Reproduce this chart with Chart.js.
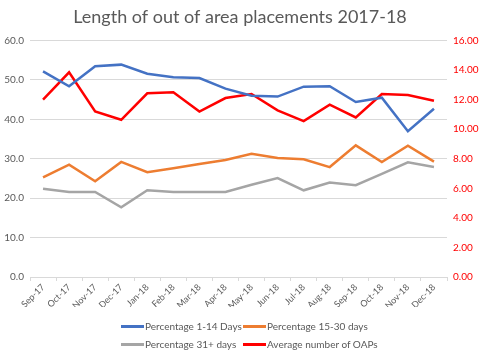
<!DOCTYPE html>
<html>
<head>
<meta charset="utf-8">
<script src="https://cdn.jsdelivr.net/npm/chart.js@4/dist/chart.umd.min.js"></script>
<style>
  html, body { margin: 0; padding: 0; background: #fff; }
  #wrap { position: relative; width: 480px; height: 355px; }
  #c { position: absolute; left: 0; top: 0; }
  .leg { position: absolute; font-family: Lato, "Liberation Sans", sans-serif; font-size: 10px; color: #595959; white-space: nowrap; line-height: 12px; }
  .leg span.ln { display: inline-block; width: 23px; height: 3px; vertical-align: middle; margin-right: 1px; position: relative; top: -1px; }
</style>
</head>
<body>
<div id="wrap">
  <canvas id="c" width="480" height="355"></canvas>
  <div id="legend"></div>
</div>
<script>
const categories = ["Sep-17","Oct-17","Nov-17","Dec-17","Jan-18","Feb-18","Mar-18","Apr-18","May-18","Jun-18","Jul-18","Aug-18","Sep-18","Oct-18","Nov-18","Dec-18"];
const pct1to14  = [52.2, 48.4, 53.5, 53.9, 51.6, 50.7, 50.5, 47.8, 46.0, 45.8, 48.3, 48.4, 44.4, 45.5, 37.0, 42.7];
const pct15to30 = [25.3, 28.5, 24.3, 29.2, 26.6, 27.6, 28.7, 29.7, 31.3, 30.2, 29.9, 27.9, 33.4, 29.2, 33.3, 29.3];
const pct31plus = [22.4, 21.6, 21.6, 17.7, 22.0, 21.6, 21.6, 21.6, 23.4, 25.1, 22.0, 24.0, 23.3, 26.2, 29.1, 27.9];
const avgOAPs   = [12.0, 13.85, 11.2, 10.64, 12.43, 12.5, 11.2, 12.11, 12.39, 11.28, 10.55, 11.66, 10.8, 12.38, 12.32, 11.93];
const seriesNames = ["Percentage 1-14 Days","Percentage 15-30 days","Percentage 31+ days","Average number of OAPs"];
const seriesColors = ["#4472C4","#ED7D31","#A5A5A5","#FF0000"];

const FONT = "Lato, 'Liberation Sans', sans-serif";

new Chart(document.getElementById('c'), {
  type: 'line',
  data: {
    labels: categories,
    datasets: [
      { label: seriesNames[0], data: pct1to14, borderColor: seriesColors[0], yAxisID: 'y' },
      { label: seriesNames[1], data: pct15to30, borderColor: seriesColors[1], yAxisID: 'y' },
      { label: seriesNames[2], data: pct31plus, borderColor: seriesColors[2], yAxisID: 'y' },
      { label: seriesNames[3], data: avgOAPs, borderColor: seriesColors[3], yAxisID: 'y1' }
    ].map(d => Object.assign(d, { borderWidth: 2.5, pointRadius: 0, tension: 0, fill: false }))
  },
  options: {
    responsive: false,
    animation: false,
    layout: { padding: { left: 0, right: 0, top: 0, bottom: 48 } },
    plugins: {
      legend: { display: false },
      tooltip: { enabled: false },
      title: {
        display: true,
        text: 'Length of out of area placements 2017-18',
        color: '#595959',
        font: { family: FONT, size: 18, weight: 'normal' },
        padding: { top: 6, bottom: 13 }
      }
    },
    scales: {
      x: {
        offset: true,
        grid: { display: true, drawOnChartArea: false, offset: true, tickLength: 4, color: '#D9D9D9' },
        border: { display: true, color: '#D9D9D9' },
        ticks: { color: '#595959', font: { family: FONT, size: 9 }, maxRotation: 45, minRotation: 45, autoSkip: false, padding: 1 },
        afterFit: s => { s.height = 30; }
      },
      y: {
        position: 'left',
        min: 0, max: 60,
        ticks: { stepSize: 10, color: '#595959', font: { family: FONT, size: 10 }, callback: v => Number(v).toFixed(1), padding: 6 },
        grid: { color: '#D9D9D9', drawTicks: false },
        border: { display: false },
        afterFit: s => { s.width = 30; }
      },
      y1: {
        position: 'right',
        min: 0, max: 16,
        ticks: { stepSize: 2, color: '#FF0000', font: { family: FONT, size: 10 }, callback: v => Number(v).toFixed(2), padding: 6 },
        grid: { drawOnChartArea: false, drawTicks: false },
        border: { display: false },
        afterFit: s => { s.width = 33; }
      }
    }
  }
});

// HTML legend
const legendPos = [[121, 320], [243, 320], [121, 338], [243, 338]];
const legendEl = document.getElementById('legend');
seriesNames.forEach((name, i) => {
  const d = document.createElement('div');
  d.className = 'leg';
  d.style.left = legendPos[i][0] + 'px';
  d.style.top = legendPos[i][1] + 'px';
  const ln = document.createElement('span');
  ln.className = 'ln';
  ln.style.background = seriesColors[i];
  d.appendChild(ln);
  d.appendChild(document.createTextNode(name));
  legendEl.appendChild(d);
});
</script>
</body>
</html>
